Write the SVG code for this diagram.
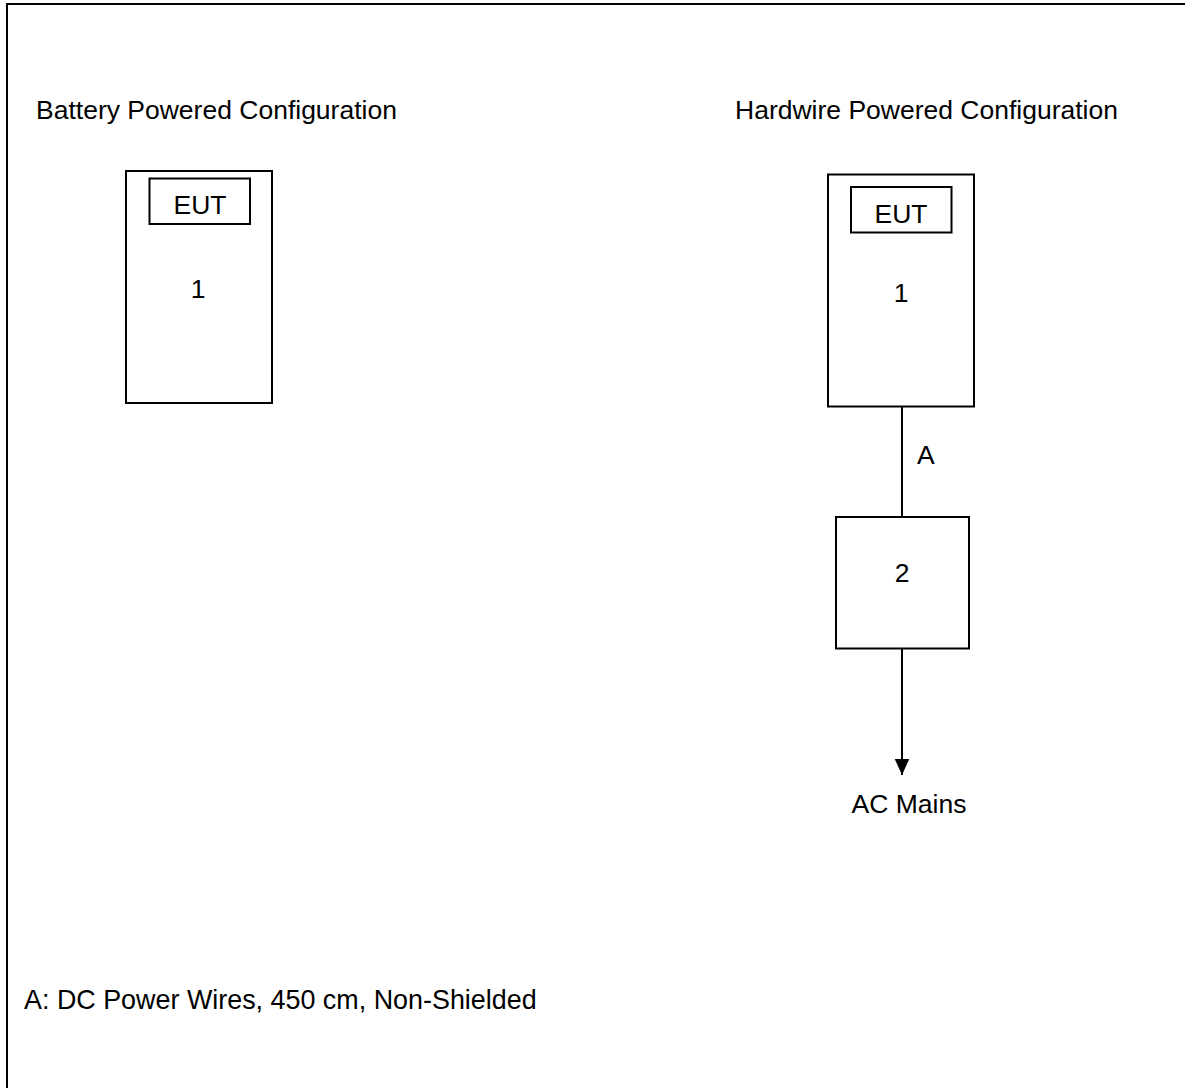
<svg xmlns="http://www.w3.org/2000/svg" width="1185" height="1088" viewBox="0 0 1185 1088">
<style>
text{font-family:"Liberation Sans",Arial,sans-serif;font-size:26.5px;fill:#000}
.c{text-anchor:middle}
.box{fill:#fff;stroke:#000;stroke-width:2}
.wire{stroke:#000;stroke-width:2;fill:none}
</style>
<defs>
<marker id="arr" markerUnits="userSpaceOnUse" markerWidth="16" markerHeight="16" refX="16" refY="7.25" orient="auto" viewBox="0 0 16 14.5">
<path d="M0,0 L16,7.25 L0,14.5 Z" fill="#000"/>
</marker>
</defs>
<rect x="0" y="0" width="1185" height="1088" fill="#fff"/>
<rect x="7" y="4" width="1200" height="1100" fill="none" stroke="#000" stroke-width="2"/>
<text x="36" y="119">Battery Powered Configuration</text>
<text x="735" y="119">Hardwire Powered Configuration</text>
<g id="node-left-1">
<rect class="box" x="126" y="171" width="146" height="232"/>
<rect class="box" x="149.5" y="178.5" width="100.5" height="45.5"/>
<text class="c" x="200" y="214">EUT</text>
<text class="c" x="198" y="298">1</text>
</g>
<g id="node-right-1">
<rect class="box" x="828" y="174.5" width="146" height="232"/>
<rect class="box" x="851" y="187" width="100.5" height="45.5"/>
<text class="c" x="901" y="223">EUT</text>
<text class="c" x="901" y="301.5">1</text>
</g>
<g id="node-right-2">
<rect class="box" x="836" y="517" width="133" height="131.5"/>
<text class="c" x="902" y="582">2</text>
</g>
<g id="connectors">
<line class="wire" x1="902" y1="407" x2="902" y2="517"/>
<line class="wire" x1="902" y1="648.5" x2="902" y2="775" marker-end="url(#arr)"/>
<text x="917" y="464">A</text>
</g>
<text class="c" x="909" y="813">AC Mains</text>
<text x="24" y="1009" style="font-size:26.9px">A: DC Power Wires, 450 cm, Non-Shielded</text>
</svg>
